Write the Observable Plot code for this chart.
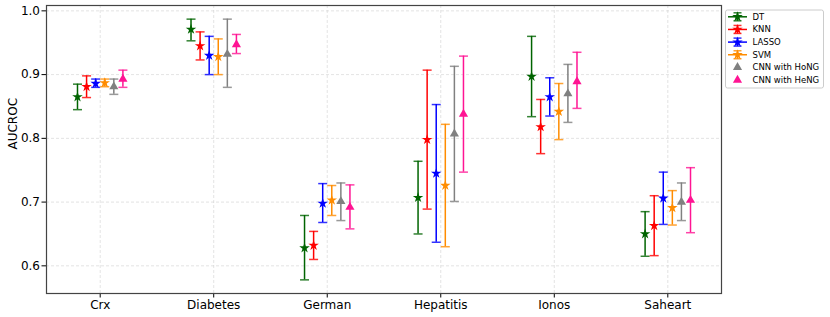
<!DOCTYPE html>
<html><head><meta charset="utf-8">
<script src="https://cdn.jsdelivr.net/npm/d3@7"></script>
<script src="https://cdn.jsdelivr.net/npm/@observablehq/plot@0.6"></script>
<style>
body{margin:0;background:#fff;}
#wrap{position:relative;width:830px;height:317px;font-family:"DejaVu Sans";}
#legend{position:absolute;left:0;top:0;pointer-events:none;}
</style></head><body><div id="wrap"></div>
<script>
const datasets = ["Crx","Diabetes","German","Hepatitis","Ionos","Saheart"];
const models = ["DT","KNN","LASSO","SVM","CNN with HoNG","CNN with HeNG"];
const colors = ["#006400","#ff0000","#0000ff","#ff8c00","#808080","#ff1493"];
const markers = ["star","star","star","star","triangle","triangle"];
const yTicks = [0.6,0.7,0.8,0.9,1.0];

const meanDT   = [0.865,0.971,0.628,0.707,0.897,0.650];
const loDT     = [0.845,0.953,0.578,0.650,0.834,0.615];
const hiDT     = [0.885,0.987,0.679,0.764,0.960,0.685];
const meanKNN  = [0.881,0.945,0.632,0.798,0.818,0.663];
const loKNN    = [0.864,0.923,0.610,0.689,0.776,0.616];
const hiKNN    = [0.898,0.967,0.654,0.907,0.861,0.710];
const meanLASSO= [0.886,0.930,0.698,0.745,0.865,0.706];
const loLASSO  = [0.880,0.900,0.668,0.637,0.835,0.665];
const hiLASSO  = [0.893,0.960,0.729,0.853,0.895,0.747];
const meanSVM  = [0.887,0.928,0.703,0.726,0.842,0.691];
const loSVM    = [0.881,0.900,0.679,0.630,0.798,0.664];
const hiSVM    = [0.893,0.956,0.726,0.822,0.886,0.718];
const meanHoNG = [0.881,0.932,0.701,0.807,0.870,0.700];
const loHoNG   = [0.869,0.880,0.671,0.701,0.825,0.671];
const hiHoNG   = [0.893,0.987,0.730,0.913,0.916,0.730];
const meanHeNG = [0.893,0.947,0.692,0.838,0.889,0.703];
const loHeNG   = [0.880,0.933,0.658,0.747,0.847,0.652];
const hiHeNG   = [0.907,0.963,0.727,0.929,0.935,0.754];

const means = [meanDT,meanKNN,meanLASSO,meanSVM,meanHoNG,meanHeNG];
const los = [loDT,loKNN,loLASSO,loSVM,loHoNG,loHeNG];
const his = [hiDT,hiKNN,hiLASSO,hiSVM,hiHoNG,hiHeNG];

const rows = [];
models.forEach((m, i) => datasets.forEach((ds, j) => {
  rows.push({model: m, mi: i, dataset: ds, x: j + (i - 2.5) * 0.08,
             mean: means[i][j], lo: los[i][j], hi: his[i][j]});
}));

const capSymbol = {draw(ctx, size) { const r = Math.sqrt(size / Math.PI); ctx.moveTo(-r, 0); ctx.lineTo(r, 0); }};
const starR = 3.3, triR = 3.4;

const chart = Plot.plot({
  width: 830, height: 317,
  marginLeft: 46, marginRight: 109, marginTop: 5, marginBottom: 24,
  style: {fontFamily: "DejaVu Sans", fontSize: "12px", background: "white", color: "#000"},
  x: {domain: [-0.473, 5.473], ticks: d3.range(datasets.length), tickFormat: i => datasets[i], label: null, tickSize: 4.5, tickPadding: 2},
  y: {domain: [0.5566, 1.0084], ticks: yTicks, tickFormat: d3.format(".1f"), label: null, tickSize: 4.5, tickPadding: 2},
  color: {domain: models, range: colors},
  marks: [
    Plot.gridX(d3.range(datasets.length), {stroke: "#d0d0d0", strokeOpacity: 0.6, strokeDasharray: "3,2"}),
    Plot.gridY(yTicks, {stroke: "#d0d0d0", strokeOpacity: 0.6, strokeDasharray: "3,2"}),
    Plot.ruleX(rows, {x: "x", y1: "lo", y2: "hi", stroke: "model", strokeWidth: 1.5}),
    Plot.dot(rows, {x: "x", y: "lo", symbol: capSymbol, r: 4.5, stroke: "model", fill: "none", strokeWidth: 1.5, strokeOpacity: 0.8}),
    Plot.dot(rows, {x: "x", y: "hi", symbol: capSymbol, r: 4.5, stroke: "model", fill: "none", strokeWidth: 1.5, strokeOpacity: 0.8}),
    Plot.dot(rows.filter(d => markers[d.mi] === "star"), {x: "x", y: "mean", symbol: "star", r: starR, fill: "model", stroke: "none"}),
    Plot.dot(rows.filter(d => markers[d.mi] === "triangle"), {x: "x", y: "mean", symbol: "triangle", r: triR, fill: "model", stroke: "none"}),
    Plot.text(["AUCROC"], {frameAnchor: "left", dx: -33, rotate: -90, fontSize: 12}),
    Plot.frame({stroke: "#444", strokeWidth: 1.2})
  ]
});
const wrap = document.getElementById("wrap");
wrap.appendChild(chart);

// legend overlay
const lg = d3.select(wrap).append("svg").attr("id", "legend").attr("width", 830).attr("height", 317);
lg.append("rect").attr("x", 725.5).attr("y", 10).attr("width", 98).attr("height", 78).attr("rx", 2)
  .attr("fill", "white").attr("fill-opacity", 0.8).attr("stroke", "#cccccc");
models.forEach((m, i) => {
  const cy = 16.8 + i * 12.65, cx = 737.5;
  const g = lg.append("g").attr("stroke", colors[i]).attr("fill", colors[i]);
  if (markers[i] === "star") {
    g.append("line").attr("x1", 728).attr("x2", 747).attr("y1", cy).attr("y2", cy).attr("stroke-width", 1.5);
    g.append("line").attr("x1", cx).attr("x2", cx).attr("y1", cy - 4).attr("y2", cy + 4).attr("stroke-width", 1.5);
    g.append("line").attr("x1", cx - 4).attr("x2", cx + 4).attr("y1", cy - 4).attr("y2", cy - 4).attr("stroke-width", 1.5).attr("stroke-opacity", 0.8);
    g.append("line").attr("x1", cx - 4).attr("x2", cx + 4).attr("y1", cy + 4).attr("y2", cy + 4).attr("stroke-width", 1.5).attr("stroke-opacity", 0.8);
    g.append("path").attr("d", d3.symbol(d3.symbolStar, starR * starR * Math.PI)()).attr("transform", `translate(${cx},${cy})`).attr("stroke", "none");
  } else {
    g.append("path").attr("d", d3.symbol(d3.symbolTriangle, triR * triR * Math.PI)()).attr("transform", `translate(${cx},${cy})`).attr("stroke", "none");
  }
  lg.append("text").attr("x", 752.5).attr("y", cy + 3).attr("font-size", 8.5).attr("font-family", "DejaVu Sans").attr("fill", "#000").text(m);
});
</script></body></html>
